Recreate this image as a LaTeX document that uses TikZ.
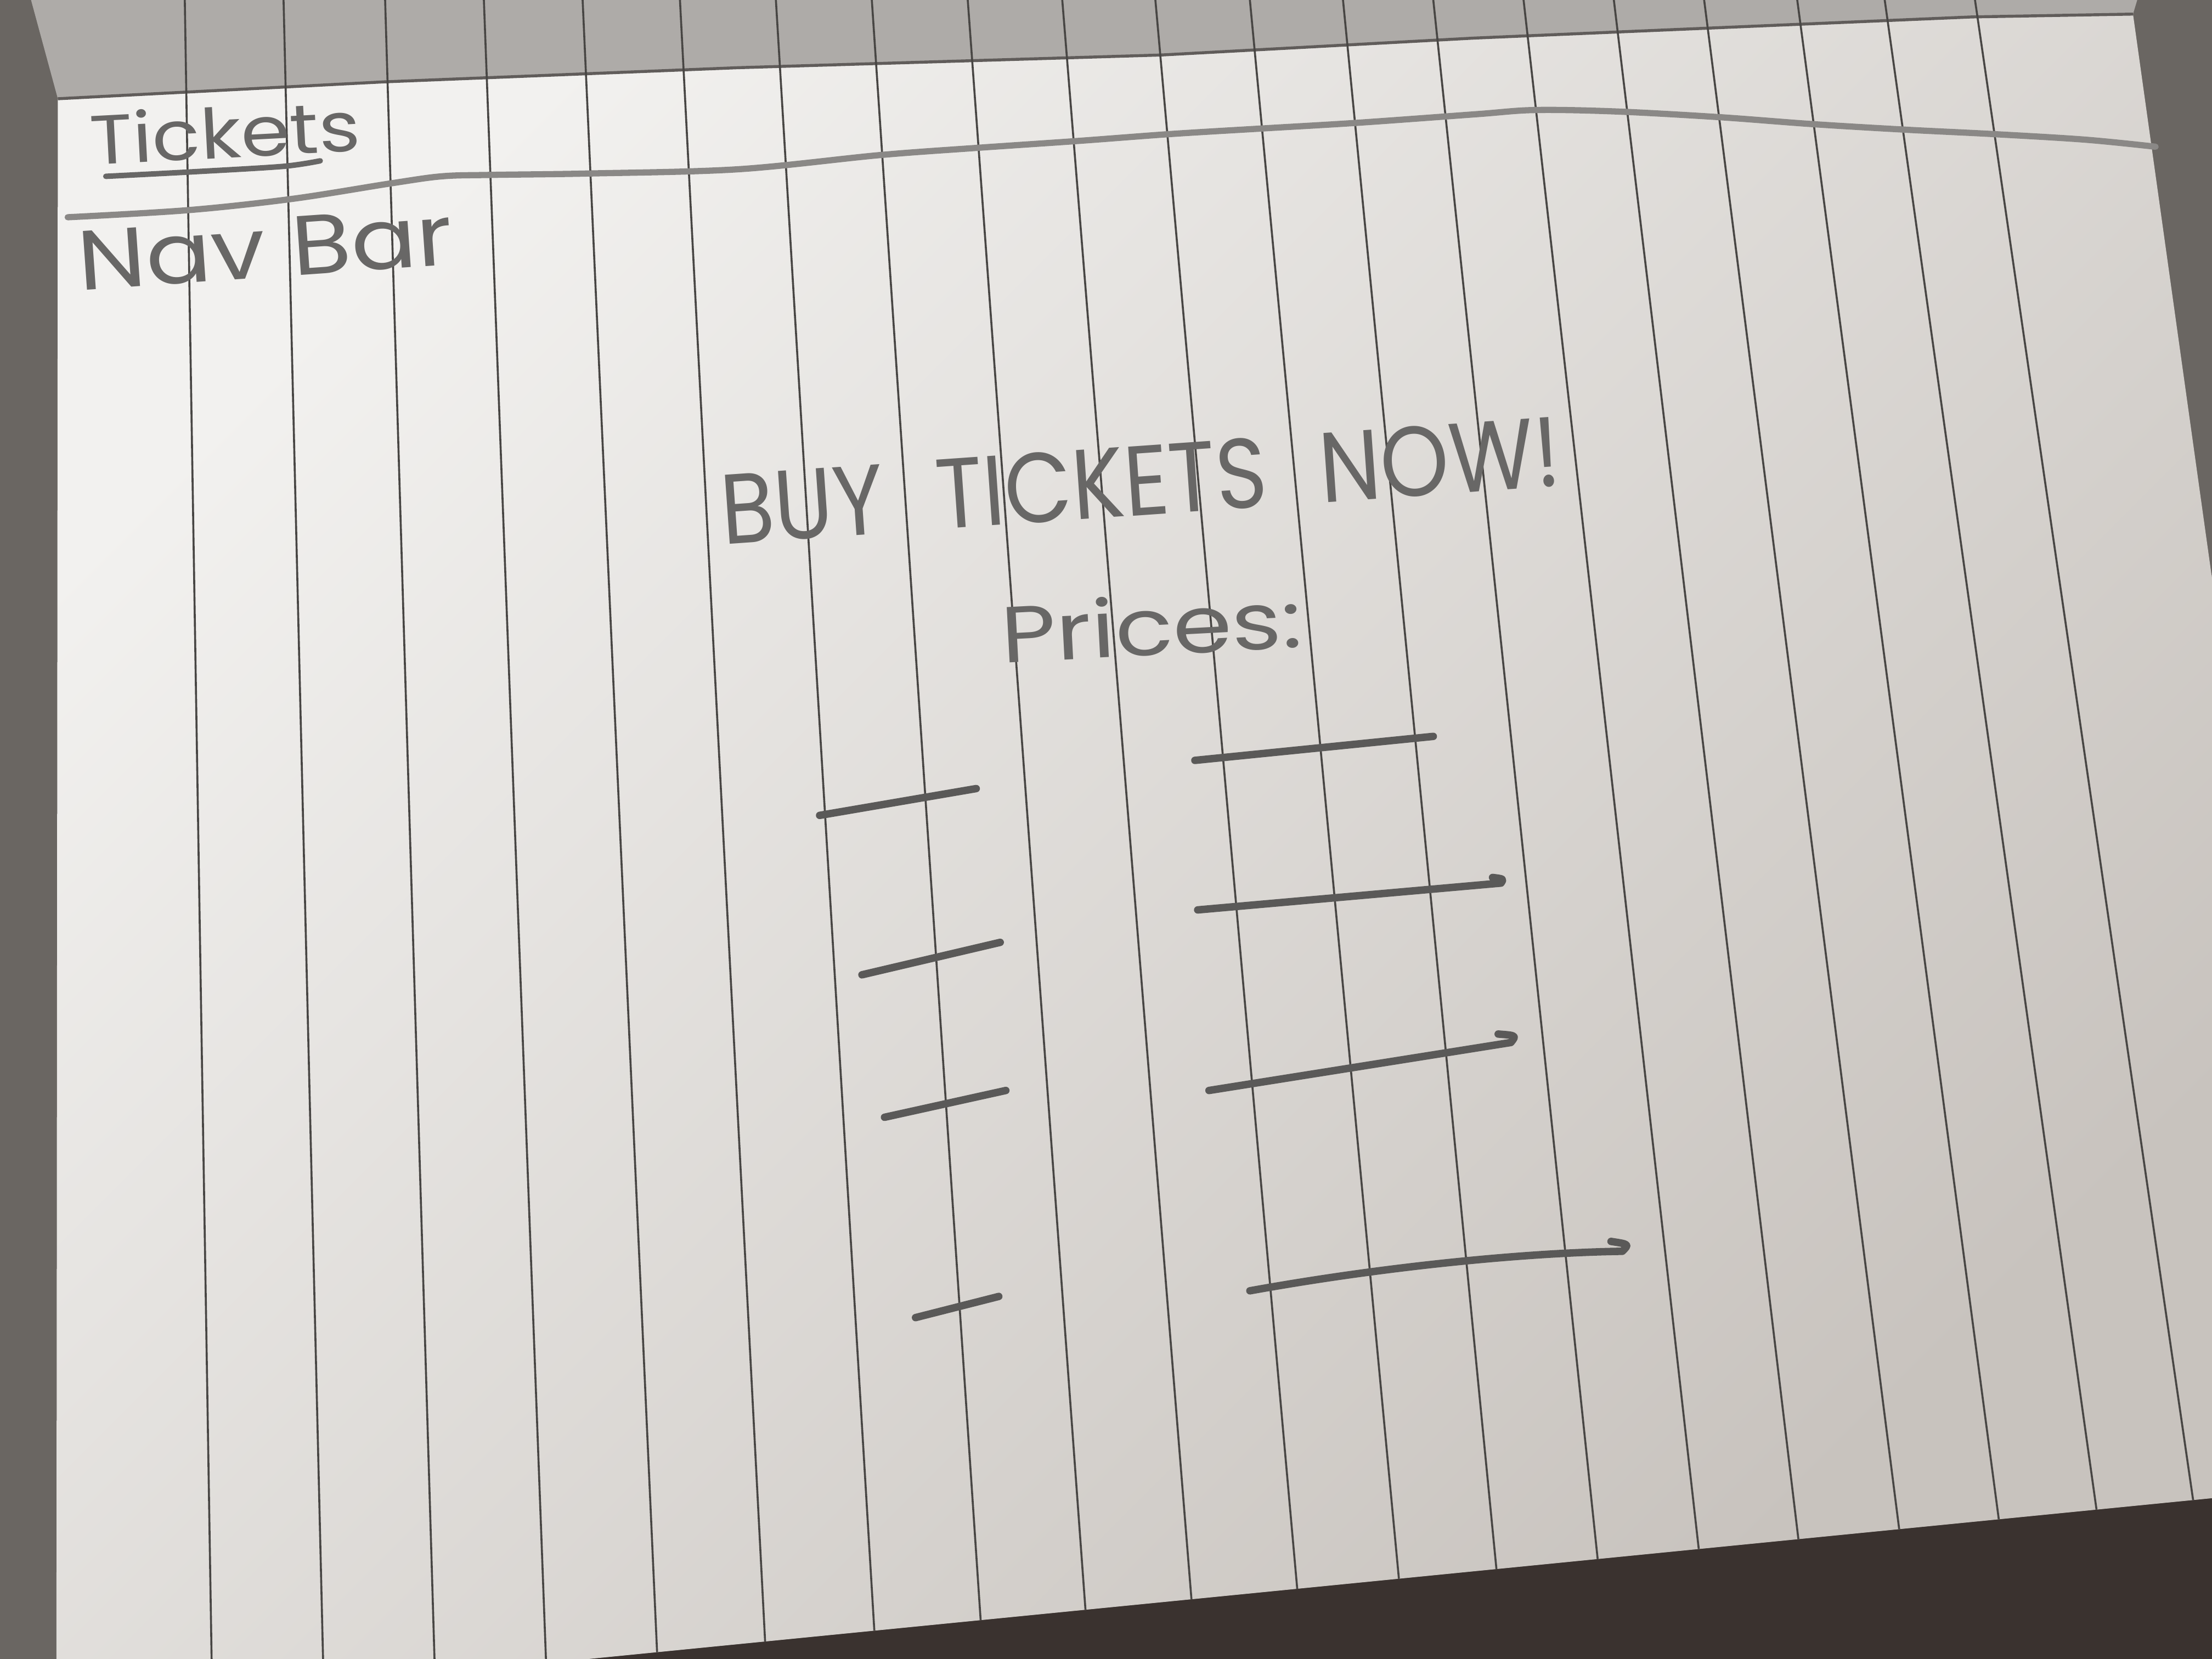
\documentclass[tikz,border=0pt]{standalone}
\usepackage{fontspec}
\setmainfont{Poppins}
\usepackage{graphicx}

\definecolor{bggray}{RGB}{106,102,98}
\definecolor{bgdark}{RGB}{58,50,47}
\definecolor{flapgray}{RGB}{174,171,168}
\definecolor{paperhi}{RGB}{242,241,239}
\definecolor{papermid}{RGB}{235,233,230}
\definecolor{paperlo}{RGB}{200,195,190}
\definecolor{edgegray}{RGB}{96,92,90}
\definecolor{rulegray}{RGB}{72,70,68}
\definecolor{inkgray}{RGB}{104,103,102}
\definecolor{slotgray}{RGB}{90,89,88}
\definecolor{pencilgray}{RGB}{138,136,134}

\begin{document}
\begin{tikzpicture}[
    x=0.01cm, y=-0.01cm,
    rule/.style={draw=rulegray, line width=0.4pt},
    hand/.style={text=inkgray, inner sep=0pt, anchor=base west},
    slot/.style={draw=slotgray, line width=1.5pt, line cap=round, line join=round},
    pencil/.style={draw=pencilgray, line width=1.25pt, line cap=round},
    underl/.style={draw=inkgray, line width=1.1pt, line cap=round}
  ]
    \useasboundingbox (0,0) rectangle (1568,1176);

    % --- table and page flap ---
    \fill[bggray] (0,0) rectangle (1568,1176);
    \fill[bgdark] (417,1176) -- (1568,1062) -- (1568,1176) -- cycle;
    \fill[flapgray] (22,0) -- (41,70) -- (273,58) -- (523,48) -- (823,39)
      -- (1045,27) -- (1398,12) -- (1512,10) -- (1515,0) -- cycle;

    % --- sheet ---
    \shade[top color=paperhi, middle color=papermid, bottom color=paperlo, shading angle=45]
      (41,70) -- (40,1176) -- (417,1176) -- (1568,1062) -- (1568,410) -- (1512,10)
      -- (1398,12) -- (1045,27) -- (823,39) -- (523,48) -- (273,58) -- cycle;
    \draw[edgegray, line width=0.6pt] (41,70) -- (273,58) -- (523,48) -- (823,39)
      -- (1045,27) -- (1398,12) -- (1512,10);

    % --- ruled lines ---
    \begin{scope}
      \clip (22,0) -- (41,70) -- (40,1176) -- (417,1176) -- (1568,1062)
        -- (1568,410) -- (1512,10) -- (1515,0) -- cycle;
      \foreach \xt/\xb in {131/150, 201/229, 273/308, 343/387, 413/466,
                           482/543, 550/621, 618/697, 686/772, 753/848,
                           819/924, 886/997, 952/1067, 1016/1140, 1080/1213,
                           1144/1285, 1208/1358, 1274/1430, 1336/1501, 1400/1571}
        \draw[rule] (\xt,0) -- (\xb,1176);
    \end{scope}

    % --- header ---
    \node[hand, font=\fontsize{14}{16}\selectfont, rotate=3] (tickets) at (64,117)
      {\scalebox{1.14}[1]{Tickets}};
    \draw[underl] plot[smooth] coordinates {(75,125) (133,122) (200,118) (227,114)};
    \draw[pencil] plot[smooth, tension=0.55] coordinates {(48,154) (133,149) (207,141)
      (277,130) (313,125) (347,124) (417,123) (523,120) (623,110) (690,105) (763,100)
      (830,95) (896,91) (963,87) (1046,81) (1088,78) (1145,79) (1218,83) (1285,88)
      (1352,92) (1412,95) (1478,99) (1528,104)};
    \node[hand, font=\fontsize{17}{20}\selectfont, rotate=4] (navbar) at (56,206)
      {\scalebox{1.15}[1]{Nav Bar}};

    % --- body ---
    \node[hand, font=\fontsize{20}{24}\selectfont, rotate=4] (buynow) at (512,386)
      {\scalebox{0.88}[1]{\spaceskip=0.6em BUY TICKETS NOW!}};
    \node[hand, font=\fontsize{16}{19}\selectfont, rotate=3] (prices) at (710,470)
      {\scalebox{1.2}[1]{Prices:}};

    % --- price slots ---
    \draw[slot] (581,578) -- (692,559);
    \draw[slot] (611,691) -- (709,668);
    \draw[slot] (627,792) -- (713,773);
    \draw[slot] (649,934) -- (708,919);

    \draw[slot] (847,539) -- (1016,522);
    \draw[slot] (849,645) -- (1064,626) .. controls (1066,623) .. (1058,622);
    \draw[slot] (857,773) -- (1071,739) .. controls (1075,734) .. (1062,733);
    \draw[slot] (886,915) .. controls (980,898) and (1080,888) .. (1150,887)
      .. controls (1155,882) .. (1142,880);
  \end{tikzpicture}
\end{document}
